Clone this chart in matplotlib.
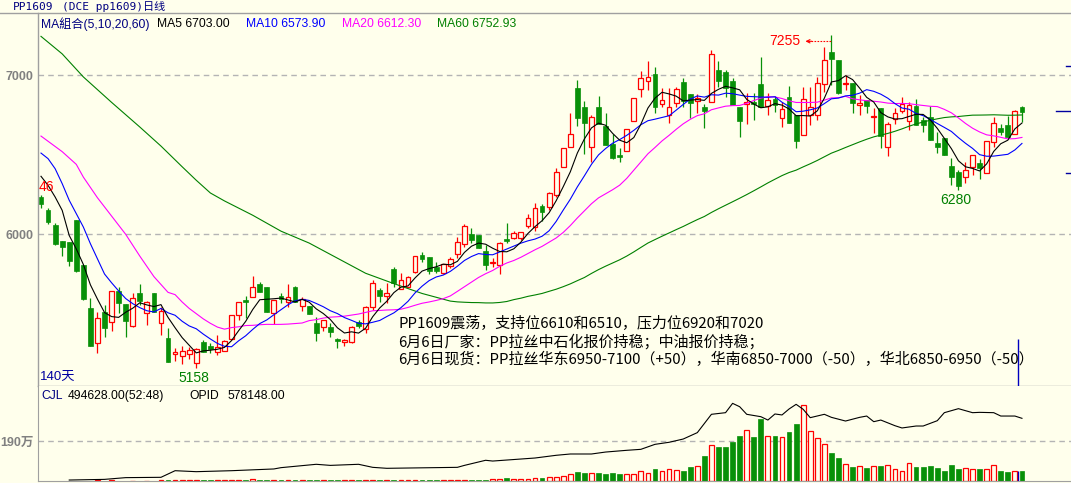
import matplotlib
matplotlib.use("Agg")
import matplotlib.pyplot as plt
import matplotlib.transforms as mtransforms
from matplotlib.lines import Line2D
import numpy as np
import pandas as pd

# ---- 日线数据 (PP1609, 140天) ----
opens = [6237, 6153, 6059, 5958, 5952, 6090, 5807, 5537, 5315, 5514,
         5447, 5641, 5560, 5426, 5629, 5503, 5629, 5440, 5346, 5247,
         5235, 5247, 5193, 5325, 5300, 5258, 5268, 5340, 5493, 5587,
         5608, 5688, 5671, 5503, 5612, 5572, 5667, 5551, 5549, 5444,
         5415, 5419, 5340, 5321, 5325, 5448, 5403, 5541, 5650, 5614,
         5780, 5654, 5667, 5765, 5870, 5855, 5797, 5759, 5801, 5876,
         5939, 6002, 5996, 5897, 5818, 5807, 5968, 5975, 5975, 6052,
         6048, 6178, 6174, 6247, 6426, 6551, 6918, 6799, 6547, 6799,
         6681, 6566, 6497, 6524, 6713, 6912, 6964, 7008, 6820, 6750,
         6824, 6956, 6880, 6838, 6799, 6830, 7033, 7019, 6964, 6799,
         6817, 6830, 6946, 6807, 6849, 6729, 6862, 6750, 6625, 6750,
         6750, 6945, 7149, 7096, 6945, 6954, 6813, 6845, 6736, 6792,
         6547, 6725, 6778, 6715, 6809, 6719, 6740, 6577, 6604, 6430,
         6390, 6363, 6421, 6447, 6388, 6583, 6671, 6688, 6629, 6799]
highs = [6247, 6165, 6069, 5958, 5952, 6090, 5807, 5597, 5514, 5555,
         5641, 5671, 5560, 5629, 5688, 5579, 5629, 5545, 5409, 5287,
         5298, 5293, 5283, 5335, 5314, 5367, 5335, 5493, 5576, 5612,
         5738, 5702, 5671, 5587, 5629, 5688, 5675, 5608, 5549, 5482,
         5461, 5440, 5346, 5342, 5426, 5460, 5549, 5713, 5660, 5692,
         5797, 5759, 5738, 5864, 5891, 5855, 5828, 5813, 5860, 5981,
         6065, 6038, 5996, 5933, 5849, 5954, 6073, 6021, 6017, 6130,
         6200, 6190, 6268, 6415, 6541, 6761, 6971, 6838, 6750, 6870,
         6761, 6629, 6541, 6660, 6855, 7027, 7092, 7050, 6918, 6918,
         6929, 6981, 6880, 6880, 6820, 7159, 7090, 7033, 6981, 6799,
         6891, 6886, 7117, 6887, 6870, 6834, 6933, 6750, 6929, 6929,
         6991, 7176, 7255, 7096, 7002, 6954, 6876, 6845, 6792, 6792,
         6709, 6792, 6866, 6834, 6849, 6740, 6807, 6646, 6604, 6478,
         6405, 6457, 6499, 6472, 6587, 6740, 6694, 6744, 6782, 6807]
lows = [6163, 6063, 5935, 5866, 5801, 5763, 5585, 5296, 5256, 5352,
        5394, 5503, 5352, 5419, 5555, 5432, 5514, 5367, 5199, 5203,
        5182, 5216, 5158, 5258, 5252, 5241, 5268, 5340, 5461, 5472,
        5608, 5639, 5509, 5436, 5566, 5545, 5576, 5520, 5499, 5331,
        5394, 5356, 5287, 5300, 5314, 5410, 5382, 5524, 5576, 5566,
        5667, 5654, 5667, 5759, 5828, 5750, 5759, 5750, 5786, 5849,
        5922, 5943, 5912, 5776, 5792, 5750, 5943, 5968, 5964, 6038,
        6020, 6083, 6153, 6237, 6426, 6551, 6681, 6505, 6457, 6692,
        6562, 6472, 6457, 6524, 6713, 6866, 6908, 6765, 6803, 6698,
        6799, 6803, 6729, 6761, 6667, 6830, 6929, 6866, 6813, 6614,
        6694, 6720, 6799, 6750, 6772, 6677, 6698, 6541, 6625, 6688,
        6719, 6897, 6939, 6882, 6908, 6761, 6750, 6765, 6635, 6541,
        6495, 6694, 6761, 6656, 6688, 6646, 6593, 6509, 6499, 6310,
        6280, 6325, 6373, 6346, 6384, 6551, 6625, 6610, 6629, 6709]
closes = [6191, 6079, 5937, 5922, 5834, 5769, 5591, 5296, 5472, 5413,
          5641, 5566, 5457, 5600, 5583, 5574, 5514, 5518, 5199, 5257,
          5264, 5272, 5279, 5262, 5279, 5293, 5331, 5493, 5572, 5572,
          5667, 5639, 5509, 5587, 5593, 5608, 5576, 5591, 5499, 5382,
          5461, 5388, 5331, 5335, 5419, 5421, 5541, 5692, 5612, 5629,
          5692, 5713, 5730, 5864, 5845, 5771, 5769, 5813, 5843, 5954,
          6052, 5964, 5912, 5807, 5828, 5948, 5956, 6006, 6017, 6100,
          6163, 6142, 6258, 6394, 6541, 6629, 6734, 6702, 6740, 6692,
          6562, 6478, 6488, 6660, 6855, 6981, 6987, 6799, 6845, 6803,
          6912, 6838, 6824, 6860, 6778, 7132, 6966, 6918, 6813, 6715,
          6832, 6820, 6799, 6845, 6813, 6786, 6698, 6589, 6849, 6798,
          6949, 7096, 7100, 6891, 6951, 6828, 6828, 6809, 6744, 6618,
          6694, 6761, 6820, 6813, 6688, 6688, 6593, 6551, 6499, 6363,
          6306, 6405, 6499, 6419, 6587, 6698, 6646, 6610, 6775, 6771]

# 成交量 (万手)
volumes = [0.3, 0.3, 0.3, 0.3, 0.3, 0.3, 0.3, 0.3, 3, 1,
           3, 1, 1, 1, 1, 1, 1, 3, 3, 3,
           3, 3, 3, 3, 3, 3, 3, 3, 3, 7,
           10, 4, 4, 4, 7, 7, 7, 4, 4, 7,
           4.5, 4.5, 4.5, 4.5, 4.5, 4.5, 4.5, 5, 4.5, 4.5,
           4.5, 4.5, 4.5, 5, 4.5, 4.5, 4.5, 4.5, 4.5, 5,
           5, 4.5, 4.5, 4.5, 8, 10, 14, 9, 9, 10,
           15, 12.7, 17.4, 17.4, 22.2, 31.7, 42.8, 36.4, 36.4, 36.4,
           33.3, 36.4, 33.3, 31.7, 31.7, 45.9, 36.4, 57.0, 45.9, 55.4,
           52.3, 47.5, 64.9, 69.7, 117.2, 169.4, 159.9, 159.9, 185.3, 213.8,
           240.7, 209.0, 292.9, 212.2, 212.2, 207.4, 232.8, 270.8, 359.4, 235.9,
           202.7, 174.2, 133.0, 109.3, 79.2, 66.5, 69.7, 61.8, 69.7, 71.3,
           74.4, 55.4, 45.9, 83.9, 66.5, 66.5, 71.3, 61.8, 47.5, 76.0,
           57.0, 61.8, 55.4, 57.0, 55.4, 74.4, 47.5, 42.8, 47.5, 49.5]

# 持仓量 OPID (万手), 读取点
opid_idx = [4, 9, 12, 17, 19, 22, 27, 33, 34, 39, 41, 45, 47, 49, 59, 60, 63, 64, 70, 73,
            75, 78, 80, 83, 85, 87, 89, 91, 93, 95, 97, 98, 99, 100, 102, 103, 104, 105, 106, 107,
            108, 109, 111, 112, 114, 116, 117, 118, 119, 121, 122, 124, 125, 127, 128, 130, 132, 133, 135, 136,
            138, 139]
opid = [0.9, 1.5, 3.1, 3.4, 9.5, 8.6, 9.5, 11.1, 12.3, 15.4, 14.4, 15.4, 12.6, 11.7, 12.6, 14.4, 19.1, 18.4, 21.2, 23.7,
        24.9, 24.9, 26.7, 28.3, 29.2, 33.8, 35.7, 38.7, 44.6, 61.5, 63.0, 71.6, 68.5, 61.5, 59.3, 56.2, 61.8, 60.9, 66.4, 70.7,
        66.1, 58.4, 61.5, 58.7, 55.3, 58.7, 59.9, 54.7, 56.2, 51.0, 48.9, 50.7, 50.7, 55.6, 63.0, 66.7, 63.0, 63.3, 63.0, 59.9,
        59.9, 57.8]

# 均线起始段 (窗口之前的数据不在图中, 从图上读取)
ma5_head_idx = [0, 1, 2, 3]
ma5_head = [6365, 6308, 6235, 6151]
ma10_head_idx = [0, 1, 2, 3, 4, 5, 6, 7, 8]
ma10_head = [6511, 6476, 6413, 6319, 6214, 6130, 6046, 5941, 5845]
ma20_head_idx = [0, 3, 5, 6, 8, 10, 12, 14, 16, 18]
ma20_head = [6618, 6520, 6440, 6360, 6230, 6115, 6000, 5863, 5734, 5635]
ma60_head_idx = [0, 3, 6, 10, 14, 17, 20, 22, 24, 26, 30, 34, 38, 42, 46, 50, 54, 58]
ma60_head = [7245, 7135, 6990, 6830, 6675, 6555, 6425, 6340, 6260, 6210,
             6120, 6020, 5945, 5850, 5755, 5690, 5628, 5580]

price_ticks = [6000, 7000]
vol_ticks = [190]
vol_tick_labels = ["190万"]
right_marks = [7060, 6775, 6386]
right_mark_len = [5, 15, 5]
cursor_x = 138.45
cursor_top = 5343

title_parts = [("PP1609", 13), ("(DCE pp1609)日线", 62)]
legend_items = [("MA組合(5,10,20,60)", "#000080", 41),
                ("MA5 6703.00", "#000000", 157),
                ("MA10 6573.90", "#0000FF", 246),
                ("MA20 6612.30", "#FF00FF", 342),
                ("MA60 6752.93", "#008000", 437)]
vol_items = [("CJL", "#000080", 41), ("494628.00(52:48)", "#000000", 68),
             ("OPID", "#000000", 189), ("578148.00", "#000000", 228)]
note_lines = ["PP1609震荡，支持位6610和6510，压力位6920和7020",
              "6月6日厂家：PP拉丝中石化报价持稳；中油报价持稳；",
              "6月6日现货：PP拉丝华东6950-7100（+50），华南6850-7000（-50），华北6850-6950（-50）"]

# ---- 样式 ----
W, H = 1071, 483
BG = "#FFFFEC"
RED = "#FF0000"
GREEN = "#089008"
GRID = "#B4B4B4"
AXC = "#A0A0A0"
NAVY = "#000080"
plt.rcParams["font.family"] = ["Liberation Sans", "Noto Sans CJK SC"]


def fx(x):
    return x / W


def fy(y):
    return 1 - y / H


o = np.array(opens, float)
h = np.array(highs, float)
l = np.array(lows, float)
c = np.array(closes, float)
v = np.array(volumes, float)
idx = np.arange(len(c))
up = c >= o
close_s = pd.Series(c)


def ma_line(n, head_idx, head_vals):
    rolled = close_s.rolling(n).mean()
    xs = list(head_idx) + list(range(n - 1, len(c)))
    ys = list(head_vals) + list(rolled.iloc[n - 1:])
    return xs, ys


fig = plt.figure(figsize=(W / 100, H / 100), dpi=100, facecolor=BG)

# 主图
ax = fig.add_axes([fx(38), fy(386), fx(1071) - fx(38), fy(13) - fy(386)])
ax.set_facecolor(BG)
ax.set_xlim(-0.425, 145.95)
ax.set_ylim(5046, 7392)
for s in ["top", "right"]:
    ax.spines[s].set_visible(False)
for s in ["left", "bottom"]:
    ax.spines[s].set_color(AXC)
    ax.spines[s].set_linewidth(1)
ax.set_xticks([])
ax.set_yticks(price_ticks)
ax.tick_params(axis="y", length=0, pad=3, labelcolor="#808080", labelsize=9)
for lab in ax.get_yticklabels():
    lab.set_fontweight("bold")
for p in price_ticks:
    ax.axhline(p, color=GRID, lw=1, ls=(0, (4, 3)), zorder=0)

body_lo = np.minimum(o, c)
body_hi = np.maximum(o, c)
body_h = np.maximum(body_hi - body_lo, 4)
bw = 0.68
ax.vlines(idx[up], body_hi[up], h[up], color=RED, lw=0.9, zorder=2)
ax.vlines(idx[up], l[up], body_lo[up], color=RED, lw=0.9, zorder=2)
ax.vlines(idx[~up], l[~up], h[~up], color=GREEN, lw=0.9, zorder=2)
ax.bar(idx[up], body_h[up], bottom=body_lo[up], width=bw,
       facecolor=BG, edgecolor=RED, lw=0.9, zorder=2)
ax.bar(idx[~up], body_h[~up], bottom=body_lo[~up], width=bw,
       facecolor=GREEN, edgecolor=GREEN, lw=0.5, zorder=2)

for n, hi_idx, hv, col in [(60, ma60_head_idx, ma60_head, "#008000"),
                            (20, ma20_head_idx, ma20_head, "#FF00FF"),
                            (10, ma10_head_idx, ma10_head, "#0000FF"),
                            (5, ma5_head_idx, ma5_head, "#000000")]:
    xs, ys = ma_line(n, hi_idx, hv)
    ax.plot(xs, ys, color=col, lw=0.8, zorder=3)

# 最高/最低标注
px_per_idx = (1071 - 38) / (145.95 + 0.425)
i_hi = int(np.argmax(h))
i_lo = int(np.argmin(l))
i_lo2 = 100 + int(np.argmin(l[100:]))
y_arrow = h[i_hi] - 6.5 * 6.289
x_left = i_hi - 26 / px_per_idx
ax.plot([x_left + 0.3, i_hi], [y_arrow, y_arrow], color=RED, lw=0.8,
        ls=(0, (1.5, 1.2)), zorder=4)
ax.annotate("", xy=(x_left, y_arrow), xytext=(x_left + 0.9, y_arrow),
            arrowprops=dict(arrowstyle="->", color=RED, lw=0.8,
                            mutation_scale=6, shrinkA=0, shrinkB=0))
ax.text(i_hi - 31 / px_per_idx, y_arrow, f"{h[i_hi]:.0f}", color=RED,
        fontsize=10, ha="right", va="center")
for i in (i_lo, i_lo2):
    ax.annotate(f"{l[i]:.0f}", xy=(i, l[i]), xytext=(-2, -7),
                textcoords="offset points", ha="center", va="center",
                color="#008000", fontsize=10)

# 右侧价位标记
tr = mtransforms.blended_transform_factory(ax.transAxes, ax.transData)
for p, ln in zip(right_marks, right_mark_len):
    ax.plot([1 - ln / 1033, 1], [p, p], color="#0000A0", lw=1,
            transform=tr, clip_on=False)
ax.vlines(cursor_x, 5046, cursor_top, color="#0000C0", lw=1, zorder=5)

# 成交量副图
axv = fig.add_axes([fx(38), fy(481), fx(1071) - fx(38), fy(386) - fy(481)])
axv.set_facecolor(BG)
axv.set_xlim(-0.425, 145.95)
axv.set_ylim(0, 451.25)
for s in ["top", "right"]:
    axv.spines[s].set_visible(False)
for s in ["left", "bottom"]:
    axv.spines[s].set_color(AXC)
axv.set_xticks([])
axv.set_yticks(vol_ticks)
axv.set_yticklabels(vol_tick_labels)
axv.tick_params(axis="y", length=0, pad=3, labelcolor="#808080", labelsize=9)
for lab in axv.get_yticklabels():
    lab.set_fontweight("bold")
for t in vol_ticks:
    axv.axhline(t, color=GRID, lw=1, ls=(0, (4, 3)), zorder=0)
axv.bar(idx[up], v[up], width=bw, facecolor=BG, edgecolor=RED, lw=0.9, zorder=2)
axv.bar(idx[~up], v[~up], width=bw, facecolor=GREEN, edgecolor=GREEN, lw=0.5, zorder=2)
axv.vlines(cursor_x, 0, v[138], color="#0000C0", lw=1, zorder=5)

axo = axv.twinx()
axo.set_ylim(0, 87.6)
axo.set_xlim(-0.425, 145.95)
axo.axis("off")
axo.plot(opid_idx, opid, color="#000000", lw=0.8)

# 分隔线
fig.add_artist(Line2D([0, 1], [fy(13), fy(13)], color=AXC, lw=1,
                      transform=fig.transFigure))

# 文字
for txt, x in title_parts:
    fig.text(fx(x), fy(7), txt, color=NAVY, fontsize=8, va="center",
             family=["DejaVu Sans Mono", "Noto Sans CJK SC"])
for txt, col, x in legend_items:
    fig.text(fx(x), fy(24), txt, color=col, fontsize=8.7, va="center",
             family=["Liberation Sans", "Noto Sans CJK TC"])
for txt, col, x in vol_items:
    fig.text(fx(x), fy(396), txt, color=col, fontsize=8.7, va="center")
fig.text(fx(39), fy(187), "46", color=RED, fontsize=10, va="center")
fig.text(fx(40), fy(377), "140天", color="#0000A0", fontsize=9.5, va="center")
for k, line in enumerate(note_lines):
    fig.text(fx(398), fy(324 + 17.5 * k), line, color="#000000", fontsize=10.8,
             va="center", family=["Noto Sans CJK SC", "DejaVu Sans"])

fig.savefig("out.png", dpi=100, facecolor=BG)
